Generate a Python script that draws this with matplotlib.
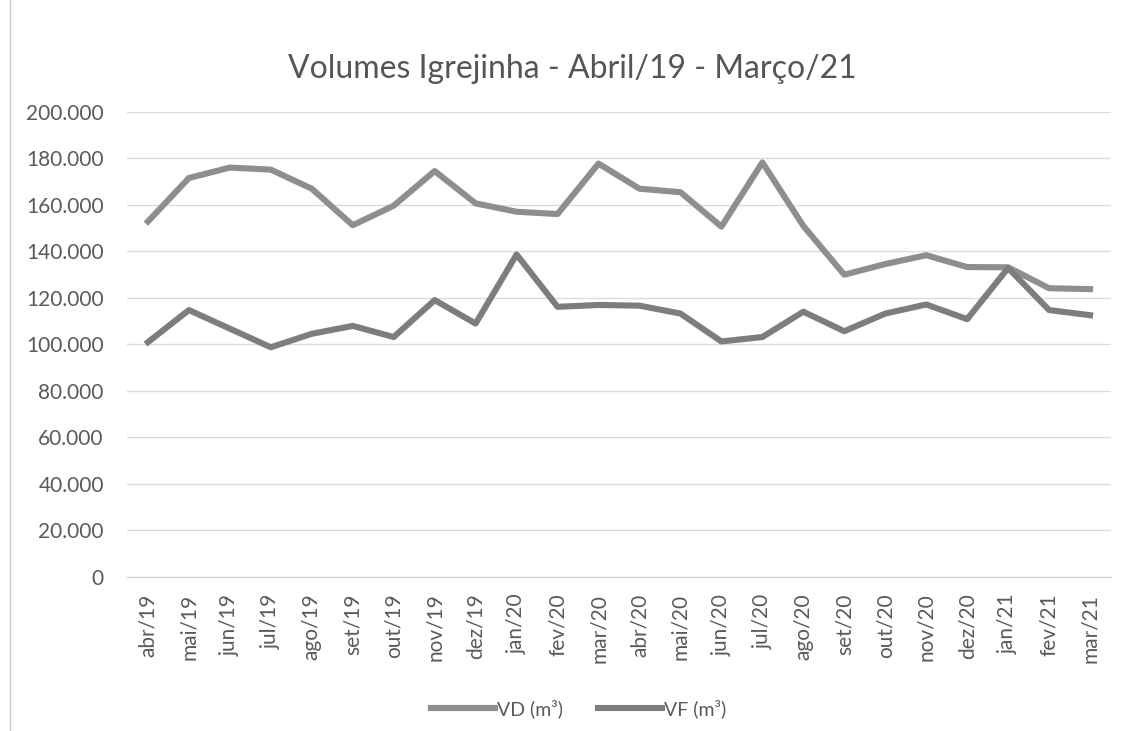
import matplotlib
matplotlib.use("Agg")
import matplotlib.pyplot as plt
from matplotlib.lines import Line2D

plt.rcParams['font.family'] = ['Lato', 'DejaVu Sans']

months = ['abr/19', 'mai/19', 'jun/19', 'jul/19', 'ago/19', 'set/19',
          'out/19', 'nov/19', 'dez/19', 'jan/20', 'fev/20', 'mar/20',
          'abr/20', 'mai/20', 'jun/20', 'jul/20', 'ago/20', 'set/20',
          'out/20', 'nov/20', 'dez/20', 'jan/21', 'fev/21', 'mar/21']

# volumes (m3)
vd = [152900, 171600, 176100, 175200, 167000, 151300,
      159700, 174600, 160700, 157100, 156100, 177800,
      167000, 165500, 150700, 178300, 151000, 130000,
      134600, 138400, 133300, 133200, 124200, 123800]
vf = [101000, 114800, 106800, 98800, 104600, 108000,
      103200, 119100, 109000, 138700, 116200, 117000,
      116700, 113300, 101300, 103200, 114100, 105700,
      113300, 117200, 110900, 132900, 114800, 112600]

yticks = list(range(0, 200001, 20000))
ylabels = ['0' if v == 0 else f'{v // 1000}.000' for v in yticks]

fig = plt.figure(figsize=(11.23, 7.31), dpi=100)
ax = fig.add_axes([0.1135, 0.2107, 0.8754, 0.6361])

x = range(len(months))
ax.plot(x, vd, color='#8e8e8e', linewidth=4.4, solid_joinstyle='round', label='VD (m³)')
ax.plot(x, vf, color='#7d7d7d', linewidth=4.4, solid_joinstyle='round', label='VF (m³)')

ax.set_xlim(-0.5, len(months) - 0.5)
ax.set_ylim(0, 200000)
ax.set_yticks(yticks)
ax.set_yticklabels(ylabels)
ax.set_xticks(list(x))
ax.set_xticklabels(months, rotation=90)
ax.tick_params(axis='y', length=0, pad=17, labelsize=15, labelcolor='#5a5a5a')
ax.tick_params(axis='x', length=0, pad=12, labelsize=15, labelcolor='#5a5a5a')
ax.grid(axis='y', color='#dcdcdc', linewidth=1)
ax.set_axisbelow(True)
for s in ['top', 'right', 'left']:
    ax.spines[s].set_visible(False)
ax.spines['bottom'].set_color('#d0d0d0')

fig.text(0.51, 0.905, 'Volumes Igrejinha - Abril/19 - Março/21',
         ha='center', va='center', fontsize=23, color='#555555')

fig.legend(loc='center', bbox_to_anchor=(0.515, 0.031), ncol=2, frameon=False,
           fontsize=14, labelcolor='#5a5a5a', handlelength=3.3,
           handletextpad=0.1, columnspacing=1.8)

# faint left border of the scanned chart
fig.add_artist(Line2D([0.009, 0.009], [0.0, 1.0], color='#cfcfcf', linewidth=1))

plt.savefig('out.png', dpi=100)
